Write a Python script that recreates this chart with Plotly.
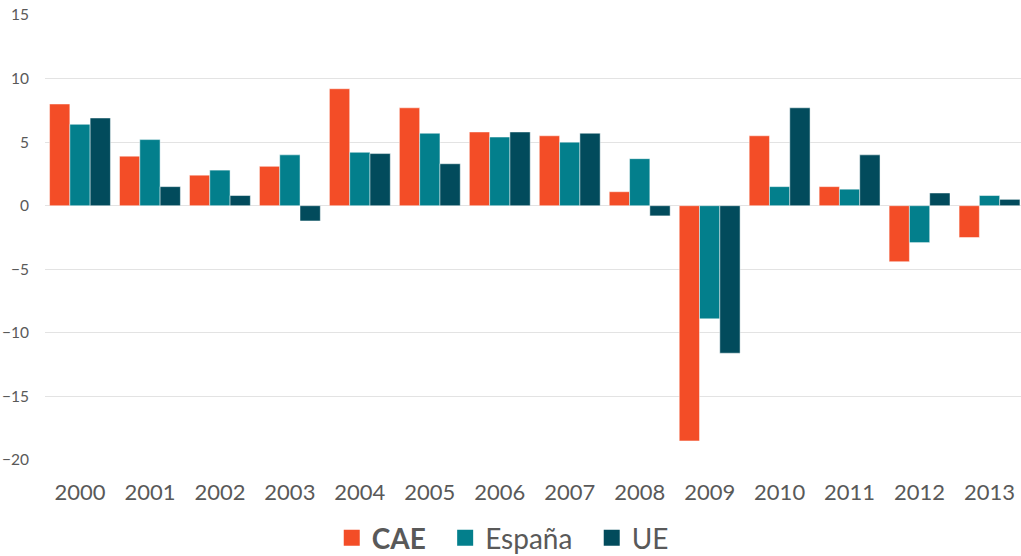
import plotly.graph_objects as go

years = ["2000", "2001", "2002", "2003", "2004", "2005", "2006",
         "2007", "2008", "2009", "2010", "2011", "2012", "2013"]
cae = [8.0, 3.9, 2.4, 3.1, 9.2, 7.7, 5.8, 5.5, 1.1, -18.5, 5.5, 1.5, -4.4, -2.5]
espana = [6.4, 5.2, 2.8, 4.0, 4.2, 5.7, 5.4, 5.0, 3.7, -8.9, 1.5, 1.3, -2.9, 0.8]
ue = [6.9, 1.5, 0.8, -1.2, 4.1, 3.3, 5.8, 5.7, -0.8, -11.6, 7.7, 4.0, 1.0, 0.5]

series = [
    ("<b>CAE</b>\u00a0\u00a0", cae, "#F34D27"),
    ("España\u00a0\u00a0", espana, "#037F8C"),
    ("UE", ue, "#024B5C"),
]

fig = go.Figure()
for name, vals, col in series:
    fig.add_trace(go.Bar(
        x=years, y=vals, name=name, showlegend=False, legendgroup=name,
        marker=dict(color=col, line=dict(color="rgba(255,255,255,0.6)", width=0.8)),
    ))
# legend swatches (larger squares, as in the reference)
for name, vals, col in series:
    fig.add_trace(go.Scatter(
        x=[None], y=[None], mode="markers", name=name, legendgroup=name,
        marker=dict(symbol="square", size=19, color=col),
    ))

W, H = 1021, 556
L = 44.5
cat_w = 70.0
span = (W - L) / cat_w

fig.update_layout(
    width=W, height=H,
    margin=dict(l=L, r=0, t=15, b=96),
    paper_bgcolor="white", plot_bgcolor="white",
    barmode="group", bargap=0.13, bargroupgap=0,
    font=dict(family="Lato, 'Open Sans', sans-serif", color="#595959"),
    xaxis=dict(
        tickfont=dict(size=22, color="#595959"),
        showgrid=False, showline=False, ticks="",
        range=[-0.5, -0.5 + span], ticklabelstandoff=17,
    ),
    yaxis=dict(
        range=[-20, 15], tickvals=[-20, -15, -10, -5, 0, 5, 10, 15],
        tickfont=dict(size=15.5, color="#595959"),
        showgrid=True, gridcolor="#E3E3E3", gridwidth=1,
        zeroline=True, zerolinecolor="#E3E3E3", zerolinewidth=1,
        ticks="", ticklabelstandoff=15, ticklabeloverflow="allow",
    ),
    legend=dict(
        orientation="h", x=0.469, xanchor="center",
        yref="container", y=(H - 538) / H, yanchor="middle",
        font=dict(size=28, color="#595959"),
        traceorder="normal", itemwidth=30,
    ),
)

fig.write_html("out.html", config={"displayModeBar": False},
               post_script="document.body.style.margin='0px';")
